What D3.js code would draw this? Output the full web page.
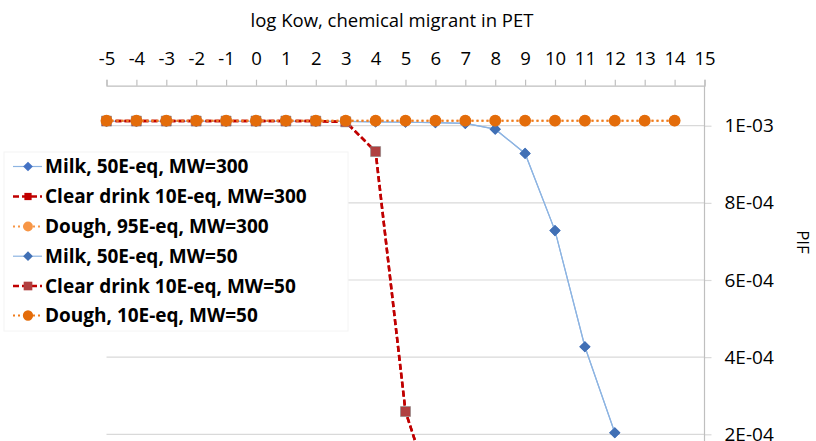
<!DOCTYPE html>
<html>
<head>
<meta charset="utf-8">
<script src="https://cdn.jsdelivr.net/npm/d3@7"></script>
<style>
  html, body { margin: 0; padding: 0; background: #fff; }
  svg { display: block; font-family: "Open Sans", sans-serif; }
</style>
</head>
<body>
<svg id="chart" width="816" height="441"></svg>
<script>
// ---- data ----
const xTicks = [-5,-4,-3,-2,-1,0,1,2,3,4,5,6,7,8,9,10,11,12,13,14,15];
const xTickLabels = ["-5","-4","-3","-2","-1","0","1","2","3","4","5","6","7","8","9","10","11","12","13","14","15"];
const yTickValues = [2e-4, 4e-4, 6e-4, 8e-4, 1e-3];
const yTickLabels = ["2E-04", "4E-04", "6E-04", "8E-04", "1E-03"];

const milkX = [-5,-4,-3,-2,-1,0,1,2,3,4,5,6,7,8,9,10,11,12];
const milk300 = [1.011e-3,1.011e-3,1.011e-3,1.011e-3,1.011e-3,1.011e-3,1.011e-3,1.011e-3,1.011e-3,1.010e-3,1.009e-3,1.008e-3,1.006e-3,0.991e-3,0.928e-3,0.728e-3,0.427e-3,0.204e-3];
const milk50  = [1.011e-3,1.011e-3,1.011e-3,1.011e-3,1.011e-3,1.011e-3,1.011e-3,1.011e-3,1.011e-3,1.010e-3,1.009e-3,1.008e-3,1.006e-3,0.991e-3,0.928e-3,0.728e-3,0.427e-3,0.204e-3];

const clearX = [-5,-4,-3,-2,-1,0,1,2,3,4,5,6];
const clear300 = [1.012e-3,1.012e-3,1.012e-3,1.012e-3,1.012e-3,1.012e-3,1.012e-3,1.012e-3,1.010e-3,0.933e-3,0.259e-3,0.022e-3];
const clear50  = [1.012e-3,1.012e-3,1.012e-3,1.012e-3,1.012e-3,1.012e-3,1.012e-3,1.012e-3,1.010e-3,0.933e-3,0.259e-3,0.022e-3];

const doughX = [-5,-4,-3,-2,-1,0,1,2,3,4,5,6,7,8,9,10,11,12,13,14];
const dough300 = [1.013e-3,1.013e-3,1.013e-3,1.013e-3,1.013e-3,1.013e-3,1.013e-3,1.013e-3,1.013e-3,1.013e-3,1.013e-3,1.013e-3,1.013e-3,1.013e-3,1.013e-3,1.013e-3,1.013e-3,1.013e-3,1.013e-3,1.013e-3];
const dough50  = [1.013e-3,1.013e-3,1.013e-3,1.013e-3,1.013e-3,1.013e-3,1.013e-3,1.013e-3,1.013e-3,1.013e-3,1.013e-3,1.013e-3,1.013e-3,1.013e-3,1.013e-3,1.013e-3,1.013e-3,1.013e-3,1.013e-3,1.013e-3];

const seriesNames = [
  "Milk, 50E-eq, MW=300",
  "Clear drink 10E-eq, MW=300",
  "Dough, 95E-eq, MW=300",
  "Milk, 50E-eq, MW=50",
  "Clear drink 10E-eq, MW=50",
  "Dough, 10E-eq, MW=50"
];
const xTitle = "log Kow, chemical migrant in PET";
const yTitle = "PIF";

// ---- styles ----
const styles = [
  {x: milkX,  y: milk300,  line: "#8db4e2", lw: 1.2, dash: null,  shape: "diamond", fill: "#4472c4", size: 80},
  {x: clearX, y: clear300, line: "#c00000", lw: 2.5, dash: "6,3", shape: "square",  fill: "#c00000", size: 70},
  {x: doughX, y: dough300, line: "#f79646", lw: 2,   dash: "2,3", shape: "circle",  fill: "#f79646", size: 100},
  {x: milkX,  y: milk50,   line: "#8db4e2", lw: 1.2, dash: null,  shape: "diamond", fill: "#4170b5", size: 80},
  {x: clearX, y: clear50,  line: "#c00000", lw: 2.5, dash: "6,3", shape: "square",  fill: "#b04040", size: 100},
  {x: doughX, y: dough50,  line: "#f07c1c", lw: 2,   dash: "2,3", shape: "circle",  fill: "#e36c0a", size: 110}
];

const svg = d3.select("#chart");
const mLeft = 106.5, mRight = 704.5, mTop = 85.7;
const x = d3.scaleLinear().domain([-5, 15]).range([mLeft, mRight]);
// y: 1E-03 at 125.7, 2E-04 at 434.3
const pxPer = (434.3 - 125.7) / 8e-4;
const y = d3.scaleLinear().domain([0, 1e-3]).range([125.7 + 1e-3 * pxPer, 125.7]);
const mBottom = 460;

// gridlines
svg.append("g").selectAll("line").data(yTickValues).join("line")
  .attr("x1", mLeft).attr("x2", mRight)
  .attr("y1", d => y(d)).attr("y2", d => y(d))
  .attr("stroke", "#d9d9d9").attr("stroke-width", 1.2);

// top x axis
const xAxis = d3.axisTop(x).tickValues(xTicks).tickSize(6).tickPadding(15)
  .tickFormat((d, i) => xTickLabels[i]);
const gx = svg.append("g").attr("transform", `translate(0,${mTop})`).call(xAxis);
gx.select(".domain").attr("stroke", "#bfbfbf").attr("stroke-width", 1.2);
gx.selectAll(".tick line").attr("stroke", "#bfbfbf").attr("stroke-width", 1.2);
gx.selectAll(".tick text").attr("font-size", 18.5).attr("fill", "#000")
  .attr("font-family", "'Open Sans', sans-serif");

// right y axis
const yAxis = d3.axisRight(y).tickValues(yTickValues).tickSize(7).tickPadding(13)
  .tickFormat((d, i) => yTickLabels[i]);
const gy = svg.append("g").attr("transform", `translate(${mRight},0)`).call(yAxis);
gy.select(".domain").remove();
gy.append("line").attr("x1", 0).attr("x2", 0).attr("y1", mTop).attr("y2", mBottom)
  .attr("stroke", "#bfbfbf").attr("stroke-width", 1.2);
gy.selectAll(".tick line").attr("stroke", "#d9d9d9").attr("stroke-width", 1.2);
gy.selectAll(".tick text").attr("font-size", 19).attr("fill", "#000")
  .attr("font-family", "'Open Sans', sans-serif");

// titles
svg.append("text").attr("x", 392).attr("y", 27).attr("text-anchor", "middle")
  .attr("font-size", 18.5).attr("fill", "#000").text(xTitle);
svg.append("text").attr("transform", "translate(797,242) rotate(90)")
  .attr("text-anchor", "middle").attr("font-size", 17).attr("fill", "#000").text(yTitle);

// series
const plot = svg.append("g");
function symbolPath(shape, size) {
  const t = shape === "diamond" ? d3.symbolDiamond2 : shape === "square" ? d3.symbolSquare : d3.symbolCircle;
  return d3.symbol().type(t).size(size)();
}
const order = [0, 3, 1, 4, 2, 5];
order.forEach(i => {
  const s = styles[i];
  const pts = s.x.map((v, k) => [v, s.y[k]]);
  const line = d3.line().x(d => x(d[0])).y(d => y(d[1]));
  plot.append("path").attr("d", line(pts)).attr("fill", "none")
    .attr("stroke", s.line).attr("stroke-width", s.lw)
    .attr("stroke-dasharray", s.dash);
  plot.append("g").selectAll("path").data(pts).join("path")
    .attr("transform", d => `translate(${x(d[0])},${y(d[1])})`)
    .attr("d", symbolPath(s.shape, s.size))
    .attr("fill", s.fill)
    .attr("stroke", s.shape === "square" ? "#8a8a8a" : "none")
    .attr("stroke-width", 0.6);
});

// legend
const lg = svg.append("g");
lg.append("rect").attr("x", 4).attr("y", 152).attr("width", 344).attr("height", 179)
  .attr("fill", "#fff").attr("stroke", "#f4f4f4").attr("stroke-width", 1);
const rowY = [166.5, 196.5, 226.5, 256.2, 286, 315.5];
seriesNames.forEach((name, i) => {
  const s = styles[i];
  const g = lg.append("g").attr("transform", `translate(0,${rowY[i]})`);
  g.append("line").attr("x1", 13).attr("x2", 42).attr("y1", 0).attr("y2", 0)
    .attr("stroke", s.line).attr("stroke-width", s.lw).attr("stroke-dasharray", s.dash);
  g.append("path").attr("transform", "translate(28,0)")
    .attr("d", symbolPath(s.shape, s.size * 0.75)).attr("fill", s.fill);
  g.append("text").attr("x", 45).attr("y", 0).attr("dy", "0.36em")
    .attr("font-size", 19).attr("font-weight", "bold").attr("fill", "#000").text(name);
});
</script>
</body>
</html>
